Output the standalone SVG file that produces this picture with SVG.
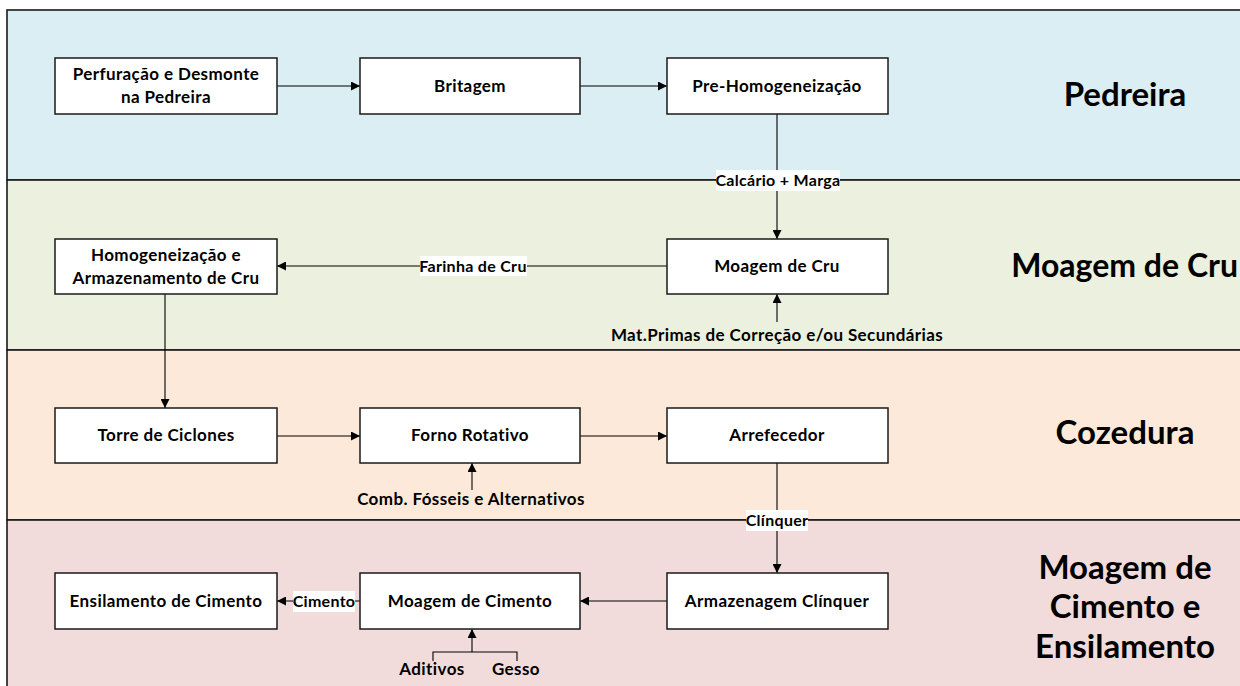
<svg xmlns="http://www.w3.org/2000/svg" width="1240" height="686" viewBox="0 0 1240 686">
<defs>
<marker id="ah" viewBox="0 0 10 10" refX="10" refY="5" markerWidth="9" markerHeight="9" markerUnits="userSpaceOnUse" orient="auto">
<path d="M0,0 L10,5 L0,10 z" fill="#000"/>
</marker>
<style>
.band{stroke:#1a1a1a;stroke-width:1.6}
.box{fill:#fff;stroke:#1a1a1a;stroke-width:1.5}
.t{font-family:Lato,"Liberation Sans",sans-serif;font-weight:bold;font-size:17px;letter-spacing:0.4px;fill:#000;text-anchor:middle}
.s{font-family:Lato,"Liberation Sans",sans-serif;font-weight:bold;font-size:16px;letter-spacing:0.3px;fill:#000;text-anchor:middle}
.ttl{font-family:Lato,"Liberation Sans",sans-serif;font-weight:bold;font-size:33px;fill:#000;text-anchor:middle}
.c{stroke:#000;stroke-width:1.1;fill:none}
.a{marker-end:url(#ah)}
.lb{fill:#fff}
</style>
</defs>
<rect width="1240" height="686" fill="#fff"/>
<g id="bands">
<rect class="band" x="7" y="10" width="1300" height="170" fill="#DAEEF3"/>
<rect class="band" x="7" y="180" width="1300" height="170" fill="#EBF1DE"/>
<rect class="band" x="7" y="350" width="1300" height="170" fill="#FDE9D9"/>
<rect class="band" x="7" y="520" width="1300" height="200" fill="#F2DCDB"/>
</g>
<g id="titles">
<text class="ttl" x="1125" y="106">Pedreira</text>
<text class="ttl" x="1238" y="277" style="font-size:32px;text-anchor:end">Moagem de Cru</text>
<text class="ttl" x="1125" y="444">Cozedura</text>
<text class="ttl" x="1125" y="579">Moagem de</text>
<text class="ttl" x="1125" y="618">Cimento e</text>
<text class="ttl" x="1125" y="658">Ensilamento</text>
</g>
<g id="connectors">
<line class="c a" x1="277" y1="86" x2="360" y2="86"/>
<line class="c a" x1="580" y1="86" x2="667" y2="86"/>
<line class="c a" x1="777" y1="114" x2="777" y2="239"/>
<line class="c a" x1="667" y1="266" x2="277" y2="266"/>
<line class="c a" x1="777" y1="322" x2="777" y2="294"/>
<line class="c a" x1="165" y1="294" x2="165" y2="408"/>
<line class="c a" x1="277" y1="436" x2="360" y2="436"/>
<line class="c a" x1="580" y1="436" x2="667" y2="436"/>
<line class="c a" x1="472" y1="490" x2="472" y2="463"/>
<line class="c a" x1="777" y1="463" x2="777" y2="573"/>
<line class="c a" x1="667" y1="601" x2="580" y2="601"/>
<line class="c a" x1="360" y1="601" x2="277" y2="601"/>
<line class="c a" x1="472" y1="652" x2="472" y2="629"/>
<path class="c" d="M433,661 V652 H517 V661"/>
<rect class="lb" x="716" y="170" width="124" height="21"/>
<text class="s" x="778" y="186">Calcário + Marga</text>
<rect class="lb" x="420" y="256" width="107" height="20"/>
<text class="s" x="473" y="272">Farinha de Cru</text>
<rect class="lb" x="746" y="510" width="62" height="21"/>
<text class="s" x="777" y="526">Clínquer</text>
<rect class="lb" x="293" y="591" width="62" height="21"/>
<text class="s" x="324" y="607">Cimento</text>
<text class="t" x="777" y="341">Mat.Primas de Correção e/ou Secundárias</text>
<text class="t" x="471" y="505">Comb. Fósseis e Alternativos</text>
<text class="t" x="432" y="675">Aditivos</text>
<text class="t" x="516" y="675">Gesso</text>
</g>
<g id="n1"><rect class="box" x="55" y="58" width="222" height="56"/><text class="t" x="166" y="80">Perfuração e Desmonte</text><text class="t" x="166" y="103">na Pedreira</text></g>
<g id="n2"><rect class="box" x="360" y="58" width="220" height="56"/><text class="t" x="470" y="92">Britagem</text></g>
<g id="n3"><rect class="box" x="667" y="58" width="221" height="56"/><text class="t" x="777" y="92">Pre-Homogeneização</text></g>
<g id="n4"><rect class="box" x="55" y="239" width="222" height="55"/><text class="t" x="166" y="261">Homogeneização e</text><text class="t" x="166" y="284">Armazenamento de Cru</text></g>
<g id="n5"><rect class="box" x="667" y="239" width="221" height="55"/><text class="t" x="777" y="272">Moagem de Cru</text></g>
<g id="n6"><rect class="box" x="55" y="408" width="222" height="55"/><text class="t" x="166" y="441">Torre de Ciclones</text></g>
<g id="n7"><rect class="box" x="360" y="408" width="220" height="55"/><text class="t" x="470" y="441">Forno Rotativo</text></g>
<g id="n8"><rect class="box" x="667" y="408" width="221" height="55"/><text class="t" x="777" y="441">Arrefecedor</text></g>
<g id="n9"><rect class="box" x="55" y="573" width="222" height="56"/><text class="t" x="166" y="607">Ensilamento de Cimento</text></g>
<g id="n10"><rect class="box" x="360" y="573" width="220" height="56"/><text class="t" x="470" y="607">Moagem de Cimento</text></g>
<g id="n11"><rect class="box" x="667" y="573" width="221" height="56"/><text class="t" x="777" y="607">Armazenagem Clínquer</text></g>
</svg>
